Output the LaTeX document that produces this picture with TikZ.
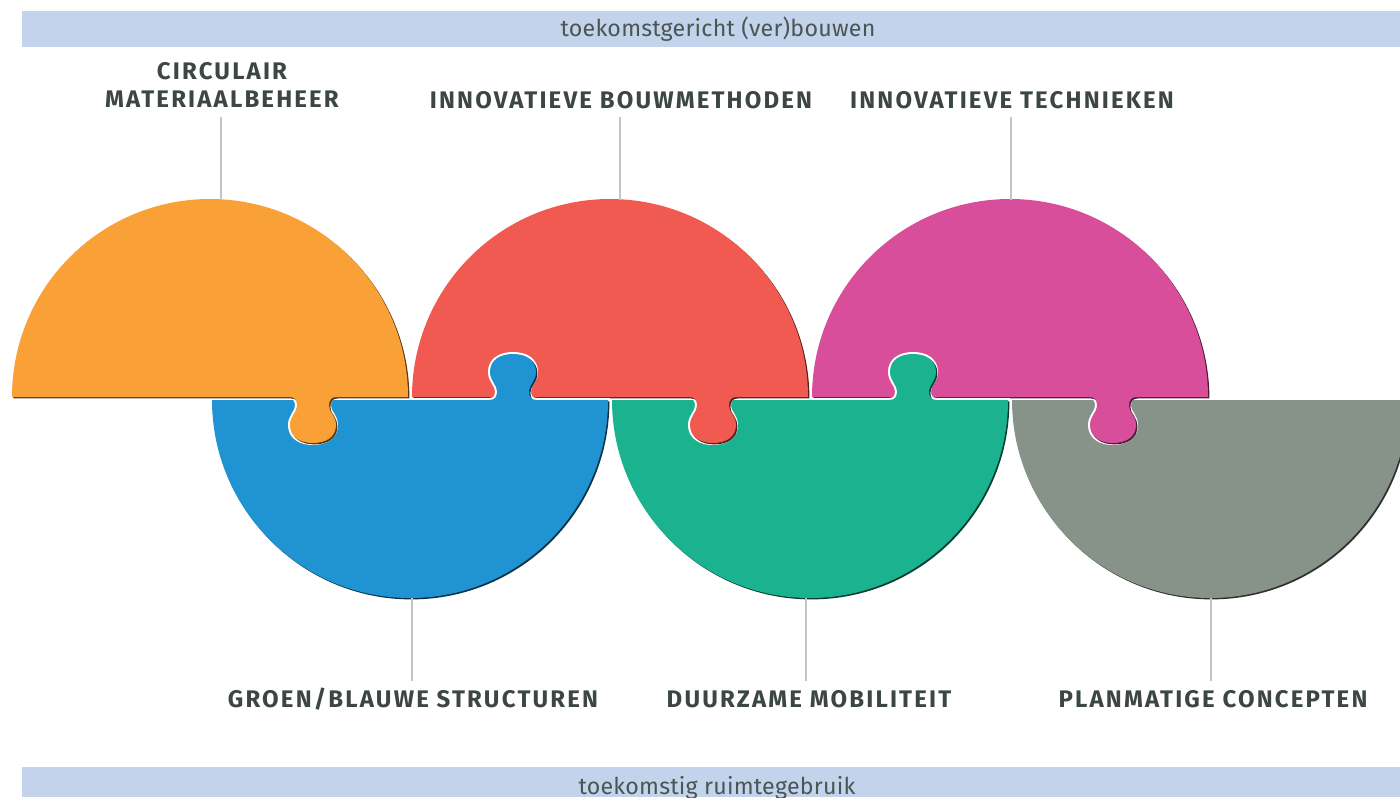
\documentclass[tikz,border=0pt]{standalone}
\usepackage{fontspec}
\setmainfont{Fira Sans}
\newfontfamily\labfont[LetterSpace=9]{Fira Sans}
\newfontfamily\bandfont[LetterSpace=1]{Fira Sans}
\definecolor{cOrange}{HTML}{F9A036}
\definecolor{cRed}{HTML}{F05A50}
\definecolor{cMagenta}{HTML}{D84E9B}
\definecolor{cBlue}{HTML}{2093D2}
\definecolor{cGreen}{HTML}{1BB28F}
\definecolor{cGray}{HTML}{879289}
\definecolor{cBand}{HTML}{C3D3EB}
\definecolor{cText}{HTML}{3C4745}
\definecolor{cBandText}{HTML}{4B5553}
\definecolor{cLine}{HTML}{C4C4C4}
% tab segment: #1 = tab centre x, #2 = base y, #3 = direction (1 down, (-1) up)
\newcommand\tabseg[3]{%
 -- ({#1+24},{#2}) .. controls ({#1+18},{#2}) and ({#1+16},{#2+3*#3}) .. ({#1+16},{#2+9*#3})
 .. controls ({#1+16},{#2+15*#3}) and ({#1+23},{#2+19*#3}) .. ({#1+23},{#2+28*#3})
 .. controls ({#1+23},{#2+40*#3}) and ({#1+13},{#2+46*#3}) .. ({#1},{#2+46*#3})
 .. controls ({#1-13},{#2+46*#3}) and ({#1-23},{#2+40*#3}) .. ({#1-23},{#2+28*#3})
 .. controls ({#1-23},{#2+19*#3}) and ({#1-16},{#2+15*#3}) .. ({#1-16},{#2+9*#3})
 .. controls ({#1-16},{#2+3*#3}) and ({#1-18},{#2}) .. ({#1-24},{#2})}
\newcommand\toppiece[1]{({#1-198},397) arc[start angle=180,end angle=360,radius=198] \tabseg{#1+103}{397}{1} -- cycle}
\newcommand\botpiece[1]{({#1-198},400) arc[start angle=180,end angle=0,radius=198] \tabseg{#1+103}{400}{(-1)} -- cycle}
\newcommand\plainbot[1]{({#1-198},400) arc[start angle=180,end angle=0,radius=198] -- cycle}
\newcommand\drawpiece[2]{%
 \draw[white,line width=2pt] #2;
 \fill[#1!35!black,shift={(1.4,1.4)}] #2;
 \fill[#1] #2;}
\begin{document}
\begin{tikzpicture}[x=0.5pt,y=-0.5pt,
  lab/.style={font=\labfont\bfseries\fontsize{12}{14}\selectfont, text=cText, inner sep=0pt, align=center},
  single/.style={text height=8.3pt, text depth=0pt},
  bandtxt/.style={font=\bandfont\fontsize{11.6}{13}\selectfont, text=cBandText, inner sep=0pt},
  conn/.style={draw=cLine, line width=1pt}]
\useasboundingbox (0,0) rectangle (1400,797);
\clip (0,0) rectangle (1400,797);
% bands
\fill[cBand] (22,11) rectangle (1400,47);
\fill[cBand] (22,767) rectangle (1400,797);
\node[bandtxt, anchor=base] (topband) at (718,37) {toekomstgericht (ver)bouwen};
\node[bandtxt, anchor=base] (botband) at (717,794) {toekomstig ruimtegebruik};
% puzzle pieces
\drawpiece{cGray}{\plainbot{1210}}
\drawpiece{cMagenta}{\toppiece{1010}}
\drawpiece{cGreen}{\botpiece{810}}
\drawpiece{cRed}{\toppiece{610}}
\drawpiece{cBlue}{\botpiece{410}}
\drawpiece{cOrange}{\toppiece{210}}
% anchor points on the arcs
\coordinate (otop) at (221,200);
\coordinate (rtop) at (620,200);
\coordinate (mtop) at (1011,200);
\coordinate (bbot) at (412,598);
\coordinate (gbot) at (806,598);
\coordinate (ybot) at (1211,598);
% labels
\node[lab, anchor=south] (l1) at (222,108) {CIRCULAIR\\MATERIAALBEHEER};
\node[lab, single, anchor=base] (l2) at (621,108) {INNOVATIEVE BOUWMETHODEN};
\node[lab, single, anchor=base] (l3) at (1012,108) {INNOVATIEVE TECHNIEKEN};
\node[lab, single, anchor=base] (l4) at (413,707) {GROEN/BLAUWE STRUCTUREN};
\node[lab, single, anchor=base] (l5) at (809,707) {DUURZAME MOBILITEIT};
\node[lab, single, anchor=base] (l6) at (1213,707) {PLANMATIGE CONCEPTEN};
% connectors
\draw[conn] ([yshift=-4.5pt]l1.south -| otop) -- (otop);
\draw[conn] ([yshift=-4.5pt]l2.south -| rtop) -- (rtop);
\draw[conn] ([yshift=-4.5pt]l3.south -| mtop) -- (mtop);
\draw[conn] (bbot) -- ([yshift=4.5pt]l4.north -| bbot);
\draw[conn] (gbot) -- ([yshift=4.5pt]l5.north -| gbot);
\draw[conn] (ybot) -- ([yshift=4.5pt]l6.north -| ybot);
\end{tikzpicture}
\end{document}
